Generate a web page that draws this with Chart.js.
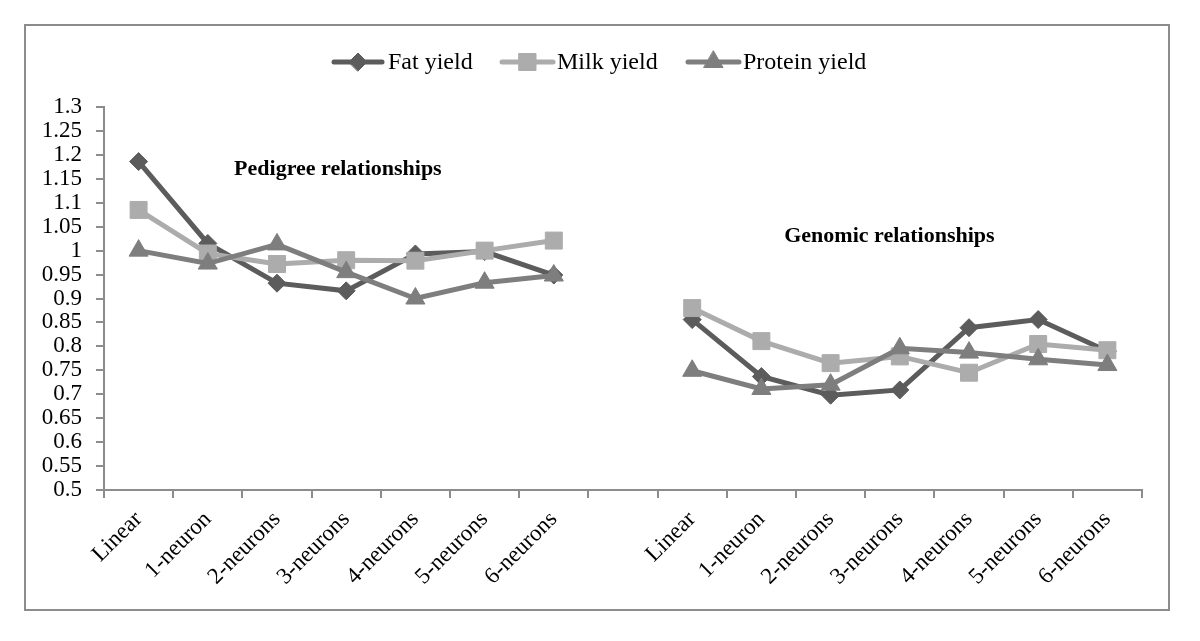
<!DOCTYPE html>
<html>
<head>
<meta charset="utf-8">
<script src="https://cdn.jsdelivr.net/npm/chart.js@4/dist/chart.umd.min.js"></script>
<style>
  html, body { margin: 0; padding: 0; background: #fff; }
  #wrap { width: 1200px; height: 641px; position: relative; }
</style>
</head>
<body>
<div id="wrap"><canvas id="chart" width="1200" height="641"></canvas></div>
<script>
// Categories (the blank one separates the two groups)
const groupLabels = ['Linear', '1-neuron', '2-neurons', '3-neurons', '4-neurons', '5-neurons', '6-neurons'];
const categories = [...groupLabels, '', ...groupLabels];

// Pedigree relationships
const fatPedigree = [1.186, 1.015, 0.932, 0.916, 0.993, 0.998, 0.949];
const milkPedigree = [1.085, 0.994, 0.972, 0.980, 0.979, 1.000, 1.021];
const proteinPedigree = [1.000, 0.973, 1.013, 0.955, 0.900, 0.933, 0.948];

// Genomic relationships
const fatGenomic = [0.856, 0.737, 0.698, 0.709, 0.839, 0.856, 0.790];
const milkGenomic = [0.880, 0.811, 0.765, 0.779, 0.745, 0.805, 0.792];
const proteinGenomic = [0.749, 0.711, 0.720, 0.796, 0.787, 0.773, 0.761];

// Y axis tick labels
const yTicks = [0.5, 0.55, 0.6, 0.65, 0.7, 0.75, 0.8, 0.85, 0.9, 0.95, 1, 1.05, 1.1, 1.15, 1.2, 1.25, 1.3];

const seriesNames = ['Fat yield', 'Milk yield', 'Protein yield'];
const seriesColors = ['#5c5c5c', '#acacac', '#7e7e7e'];
const seriesShapes = ['rectRot', 'rect', 'triangle'];
const seriesRadius = [9, 12, 11];

const FONT = "'Liberation Serif', 'Times New Roman', serif";
const AXIS_GREY = '#8c8c8c';

function joinGroups(a, b) {
    return [...a, null, ...b];
}

const seriesData = [
    joinGroups(fatPedigree, fatGenomic),
    joinGroups(milkPedigree, milkGenomic),
    joinGroups(proteinPedigree, proteinGenomic)
];

// Outer frame + group captions
const framePlugin = {
    id: 'frame',
    beforeDraw(chart) {
        const ctx = chart.ctx;
        ctx.save();
        ctx.fillStyle = '#fff';
        ctx.fillRect(0, 0, chart.width, chart.height);
        ctx.strokeStyle = AXIS_GREY;
        ctx.lineWidth = 2;
        ctx.strokeRect(25, 25, 1144, 585);
        ctx.restore();
    },
    afterDatasetsDraw(chart) {
        const ctx = chart.ctx;
        const x = chart.scales.x;
        const y = chart.scales.y;
        ctx.save();
        ctx.fillStyle = '#000';
        ctx.font = 'bold 22px ' + FONT;
        ctx.textAlign = 'center';
        ctx.textBaseline = 'middle';
        ctx.fillText('Pedigree relationships', x.getPixelForValue(2.88), y.getPixelForValue(1.17));
        ctx.fillText('Genomic relationships', x.getPixelForValue(10.85), y.getPixelForValue(1.03));
        ctx.restore();
    }
};

// Legend with line + marker like the original
const legendPlugin = {
    id: 'lineLegend',
    afterDraw(chart) {
        const ctx = chart.ctx;
        const items = [
            { x1: 334, x2: 382, tx: 388 },
            { x1: 502, x2: 553, tx: 557 },
            { x1: 688, x2: 739, tx: 743 }
        ];
        const cy = 62;
        ctx.save();
        chart.data.datasets.forEach((ds, i) => {
            const it = items[i];
            ctx.strokeStyle = ds.borderColor;
            ctx.lineWidth = 5;
            ctx.lineCap = 'round';
            ctx.beginPath();
            ctx.moveTo(it.x1, cy);
            ctx.lineTo(it.x2, cy);
            ctx.stroke();
            ctx.fillStyle = ds.borderColor;
            ctx.strokeStyle = ds.borderColor;
            ctx.lineWidth = 1;
            Chart.helpers.drawPoint(ctx, {
                pointStyle: ds.pointStyle,
                radius: ds.pointRadius,
                rotation: 0,
                borderWidth: 1
            }, (it.x1 + it.x2) / 2, cy);
            ctx.fillStyle = '#000';
            ctx.font = '24px ' + FONT;
            ctx.textAlign = 'left';
            ctx.textBaseline = 'middle';
            ctx.fillText(ds.label, it.tx, cy + 1);
        });
        ctx.restore();
    }
};

const datasets = seriesNames.map((name, i) => ({
    label: name,
    data: seriesData[i],
    borderColor: seriesColors[i],
    backgroundColor: seriesColors[i],
    pointBackgroundColor: seriesColors[i],
    pointBorderColor: seriesColors[i],
    borderWidth: 5,
    pointStyle: seriesShapes[i],
    pointRadius: seriesRadius[i],
    pointBorderWidth: 1,
    tension: 0,
    spanGaps: false,
    order: 3 - i
}));

const ctx = document.getElementById('chart').getContext('2d');
new Chart(ctx, {
    type: 'line',
    data: { labels: categories, datasets: datasets },
    options: {
        responsive: false,
        animation: false,
        layout: { padding: { top: 107, left: 25, right: 58, bottom: 0 } },
        plugins: {
            legend: { display: false },
            tooltip: { enabled: false }
        },
        scales: {
            x: {
                type: 'category',
                offset: true,
                grid: {
                    offset: true,
                    drawOnChartArea: false,
                    drawTicks: true,
                    tickLength: 8,
                    color: AXIS_GREY,
                    lineWidth: 2
                },
                border: { color: AXIS_GREY, width: 2 },
                ticks: {
                    autoSkip: false,
                    minRotation: 45,
                    maxRotation: 45,
                    padding: 8,
                    color: '#000',
                    font: { family: FONT, size: 23 }
                },
                afterFit(scale) { scale.height = 151; }
            },
            y: {
                min: 0.5,
                max: 1.3,
                grid: {
                    drawOnChartArea: false,
                    drawTicks: true,
                    tickLength: 8,
                    color: AXIS_GREY,
                    lineWidth: 2
                },
                border: { color: AXIS_GREY, width: 2 },
                ticks: {
                    autoSkip: false,
                    padding: 14,
                    color: '#000',
                    font: { family: FONT, size: 23 },
                    callback: v => String(Number(v.toFixed(2)))
                },
                afterBuildTicks(scale) {
                    scale.ticks = yTicks.map(v => ({ value: v }));
                },
                afterFit(scale) { scale.width = 79; }
            }
        }
    },
    plugins: [framePlugin, legendPlugin]
});
</script>
</body>
</html>
